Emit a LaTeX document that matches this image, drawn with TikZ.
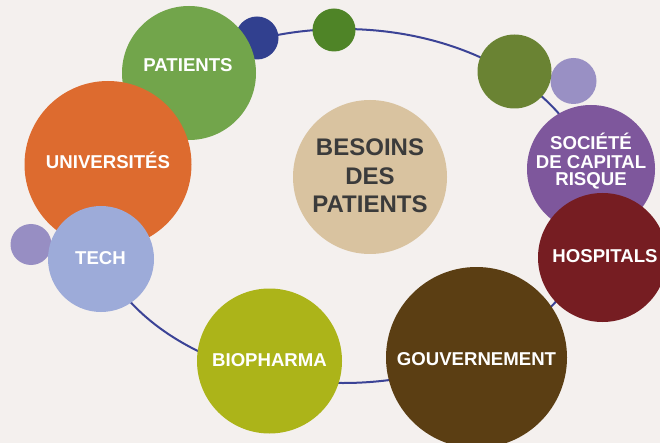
\documentclass[tikz,border=0pt]{standalone}
\usepackage{fontspec}
\setmainfont{Liberation Sans}
\definecolor{bgc}{HTML}{F4F0EE}
\definecolor{ringc}{HTML}{3B4396}
\definecolor{patc}{HTML}{72A54B}
\definecolor{dbluec}{HTML}{31408F}
\definecolor{sgreenc}{HTML}{4F8427}
\definecolor{olivec}{HTML}{6A8333}
\definecolor{lpurpc}{HTML}{9990C4}
\definecolor{socc}{HTML}{7E579C}
\definecolor{hospc}{HTML}{761D22}
\definecolor{gouvc}{HTML}{5B3E13}
\definecolor{bioc}{HTML}{ACB419}
\definecolor{techc}{HTML}{9DABD9}
\definecolor{lavc}{HTML}{978EC3}
\definecolor{univc}{HTML}{DD6B2F}
\definecolor{besc}{HTML}{D9C3A0}
\definecolor{darktext}{HTML}{3B3B3B}
\begin{document}
\begin{tikzpicture}[x=1pt,y=-1pt,
  bubble/.style={circle, draw=none, inner sep=0pt, minimum size=#1},
  lbl/.style={font=\fontsize{18.6}{18.6}\selectfont\bfseries, text=white, inner sep=0pt, anchor=base},
  biglbl/.style={font=\fontsize{24}{29}\selectfont\bfseries, text=darktext, inner sep=0pt, anchor=base}]
\useasboundingbox (0,0) rectangle (660,443);
\fill[bgc] (0,0) rectangle (660,443);
% ring
\draw[ringc, line width=2pt] (343,206) ellipse [x radius=253, y radius=177];
% bubbles
\node[bubble=43, fill=dbluec] (dblue) at (257,38) {};
\node[bubble=43, fill=sgreenc] (sgreen) at (334,30) {};
\node[bubble=134, fill=patc] (pat) at (189,73) {};
\node[bubble=167, fill=univc] (univ) at (108,164.5) {};
\node[bubble=41, fill=lavc] (lav) at (31,244.5) {};
\node[bubble=106, fill=techc] (tech) at (101,259) {};
\node[bubble=145, fill=bioc] (bio) at (269.5,361) {};
\node[bubble=181, fill=gouvc] (gouv) at (476.5,357.5) {};
\node[bubble=46, fill=lpurpc] (lpurp) at (573.5,81) {};
\node[bubble=74, fill=olivec] (olive) at (514.5,71.5) {};
\node[bubble=128, fill=socc] (soc) at (591,169) {};
\node[bubble=129, fill=hospc] (hosp) at (602.5,257.5) {};
\node[bubble=154, fill=besc] (bes) at (370,177) {};
% labels
\node[lbl] (tpat) at (188,71.5) {PATIENTS};
\node[lbl] (tuniv) at (108,169) {UNIVERSITÉS};
\node[lbl] (ttech) at (100.5,264) {TECH};
\node[lbl] (tbio) at (269.5,366) {BIOPHARMA};
\node[lbl] (tgouv) at (476.5,365) {GOUVERNEMENT};
\node[lbl] (thosp) at (605,262.7) {HOSPITALS};
\node[lbl] (tsoc1) at (591,150) {SOCIÉTÉ};
\node[lbl] (tsoc2) at (591,168.3) {DE CAPITAL};
\node[lbl] (tsoc3) at (591,185.7) {RISQUE};
\node[biglbl] (tbes1) at (370,156) {BESOINS};
\node[biglbl] (tbes2) at (370,185) {DES};
\node[biglbl] (tbes3) at (370,213) {PATIENTS};
\end{tikzpicture}
\end{document}
